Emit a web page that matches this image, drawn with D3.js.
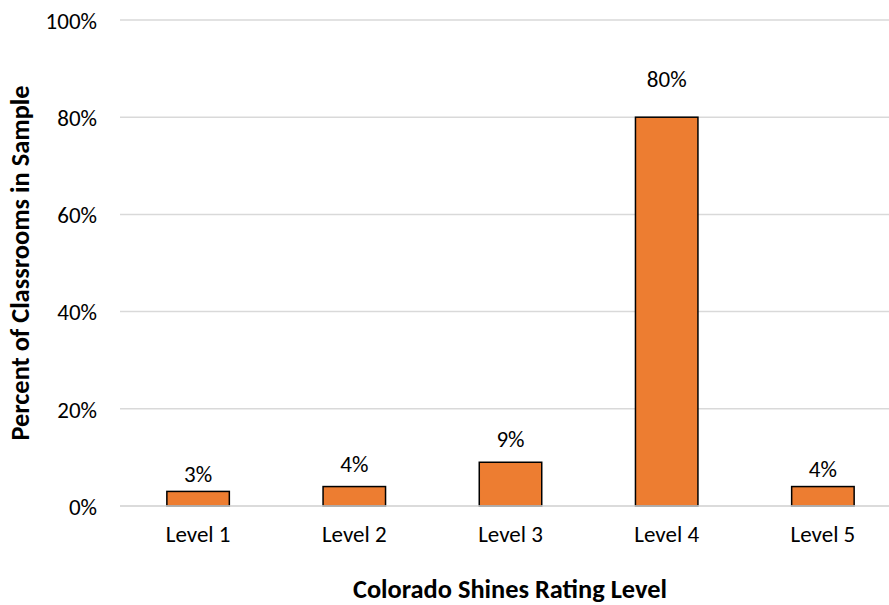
<!DOCTYPE html>
<html>
<head>
<meta charset="utf-8">
<script src="https://cdn.jsdelivr.net/npm/d3@7"></script>
<style>
  html, body { margin: 0; padding: 0; background: #fff; }
  svg { display: block; }
  text { font-family: Carlito, Calibri, Lato, "Open Sans", sans-serif; fill: #000; }
</style>
</head>
<body>
<svg id="chart" width="889" height="605"></svg>
<script>
// Share of sampled classrooms by Colorado Shines rating level
const categories = ["Level 1", "Level 2", "Level 3", "Level 4", "Level 5"];
const percents = [3, 4, 9, 80, 4];
const yTicks = [0, 20, 40, 60, 80, 100];

// Distance (px) between each bar top and its value label baseline
const labelGap = [9, 15, 15, 30, 10];

const W = 889, H = 605;
const plot = { left: 120, right: 901, top: 20, bottom: 506 };
const FONT = "Carlito, Calibri, Lato, 'Open Sans', sans-serif";
const labelSize = 23;
const titleSize = 26.4;

const svg = d3.select("#chart");

const x = d3.scaleBand()
  .domain(categories)
  .range([plot.left, plot.right])
  .paddingInner(0.6)
  .paddingOuter(0.3);

const y = d3.scaleLinear()
  .domain([0, 100])
  .range([plot.bottom, plot.top]);

// Horizontal gridlines
svg.append("g")
  .selectAll("line")
  .data(yTicks)
  .join("line")
  .attr("x1", plot.left)
  .attr("x2", W)
  .attr("y1", d => y(d))
  .attr("y2", d => y(d))
  .attr("stroke", "#d9d9d9")
  .attr("stroke-width", 1.5);

// Y tick labels
const yAxis = d3.axisLeft(y).tickValues(yTicks).tickFormat(d => d + "%").tickSize(0).tickPadding(0);
const gy = svg.append("g")
  .attr("transform", `translate(97,0)`)
  .call(yAxis);
gy.select(".domain").remove();
gy.selectAll("text")
  .attr("font-size", labelSize)
  .attr("dy", "0.36em")
  .style("font-family", FONT)
  .attr("fill", "#000");

// Bars
svg.append("g")
  .selectAll("rect")
  .data(percents)
  .join("rect")
  .attr("x", (d, i) => x(categories[i]))
  .attr("y", d => y(d))
  .attr("width", x.bandwidth())
  .attr("height", d => y(0) - y(d))
  .attr("fill", "#ed7d31")
  .attr("stroke", "#000")
  .attr("stroke-width", 1.5);

// Baseline redrawn over bar bottoms
svg.append("line")
  .attr("x1", plot.left).attr("x2", W)
  .attr("y1", y(0)).attr("y2", y(0))
  .attr("stroke", "#d9d9d9")
  .attr("stroke-width", 1.5);

// Value labels
svg.append("g")
  .selectAll("text")
  .data(percents)
  .join("text")
  .attr("x", (d, i) => x(categories[i]) + x.bandwidth() / 2)
  .attr("y", (d, i) => y(d) - labelGap[i])
  .attr("text-anchor", "middle")
  .attr("font-size", labelSize)
  .text(d => d + "%");

// Category labels
const xAxis = d3.axisBottom(x).tickSize(0).tickPadding(0);
const gx = svg.append("g")
  .attr("transform", `translate(0,${plot.bottom})`)
  .call(xAxis);
gx.select(".domain").remove();
gx.selectAll("text")
  .attr("y", 36)
  .attr("dy", 0)
  .attr("font-size", labelSize)
  .style("font-family", FONT)
  .attr("fill", "#000");

// Axis titles
svg.append("text")
  .attr("x", 510)
  .attr("y", 598)
  .attr("text-anchor", "middle")
  .attr("font-size", titleSize)
  .attr("font-weight", "bold")
  .text("Colorado Shines Rating Level");

svg.append("text")
  .attr("transform", `translate(29,${(plot.top + plot.bottom) / 2}) rotate(-90)`)
  .attr("text-anchor", "middle")
  .attr("font-size", titleSize)
  .attr("font-weight", "bold")
  .text("Percent of Classrooms in Sample");
</script>
</body>
</html>
